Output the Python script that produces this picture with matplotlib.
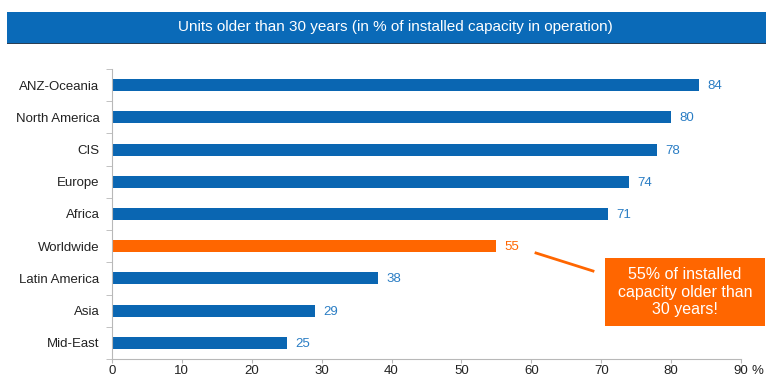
import numpy as np
import matplotlib.pyplot as plt
from matplotlib.patches import Rectangle

plt.rcParams['font.family'] = ['Liberation Sans', 'DejaVu Sans']

# data, top to bottom
regions = ['ANZ-Oceania', 'North America', 'CIS', 'Europe', 'Africa',
           'Worldwide', 'Latin America', 'Asia', 'Mid-East']
values = [84, 80, 78, 74, 71, 55, 38, 29, 25]
highlight = 'Worldwide'
x_ticks = [0, 10, 20, 30, 40, 50, 60, 70, 80, 90]

BLUE = '#0a66b2'
ORANGE = '#ff6600'
LABEL_BLUE = '#2a7dc4'

W, H = 766, 379
fig = plt.figure(figsize=(W / 100, H / 100), dpi=100)
fig.patch.set_facecolor('white')

# title band
fig.patches.append(Rectangle((7 / W, 1 - 43 / H), (W - 7) / W, 31 / H,
                             transform=fig.transFigure, facecolor='#0a6ab8',
                             edgecolor='none', zorder=0))
fig.patches.append(Rectangle((7 / W, 1 - 44 / H), (W - 7) / W, 1.5 / H,
                             transform=fig.transFigure, facecolor='#2a3f55',
                             edgecolor='none', zorder=1))
fig.text(395 / W, 1 - 27.5 / H,
         'Units older than 30 years (in % of installed capacity in operation)',
         color='white', fontsize=11, ha='center', va='center')

ax = fig.add_axes([112 / W, 1 - 359 / H, (741 - 112) / W, (359 - 69) / H])
y = np.arange(len(regions))[::-1]
colors = [ORANGE if r == highlight else BLUE for r in regions]
ax.barh(y, values, height=0.37, color=colors)

for yi, v, r in zip(y, values, regions):
    ax.text(v + 1.2, yi - 0.03, str(v), va='center', ha='left', fontsize=9.5,
            color=ORANGE if r == highlight else LABEL_BLUE)

ax.set_xlim(0, 90)
ax.set_ylim(-0.5, len(regions) - 0.5)
ax.set_xticks(x_ticks)
ax.set_xticklabels([str(t) for t in x_ticks])
ax.set_yticks(y)
ax.set_yticklabels(regions)
ax.set_yticks(np.arange(-0.5, len(regions), 1), minor=True)

for s in ['top', 'right']:
    ax.spines[s].set_visible(False)
for s in ['left', 'bottom']:
    ax.spines[s].set_color('#b8b8b8')
ax.tick_params(axis='y', which='major', length=0, pad=9, labelsize=9.5,
               labelcolor='#222222')
ax.tick_params(axis='y', which='minor', length=4, color='#b8b8b8')
ax.tick_params(axis='x', length=3, color='#b8b8b8', labelsize=9.5,
               labelcolor='#222222', pad=1.5)
ax.annotate('%', xy=(90, 0), xycoords=('data', 'axes fraction'),
            xytext=(7.5, -4.5), textcoords='offset points',
            fontsize=9.5, color='#222222', ha='left', va='top')

# callout
fig.patches.append(Rectangle((605 / W, 1 - 326 / H), 160 / W, 68 / H,
                             transform=fig.transFigure, facecolor=ORANGE,
                             edgecolor='none'))
fig.text(685 / W, 1 - 292 / H, '55% of installed\ncapacity older than\n30 years!',
         color='white', fontsize=11.5, ha='center', va='center',
         linespacing=1.2)
fig.add_artist(plt.Line2D([536 / W, 593 / W], [1 - 253 / H, 1 - 271 / H],
                          transform=fig.transFigure, color=ORANGE, lw=2))

fig.savefig('out.png', dpi=100)
